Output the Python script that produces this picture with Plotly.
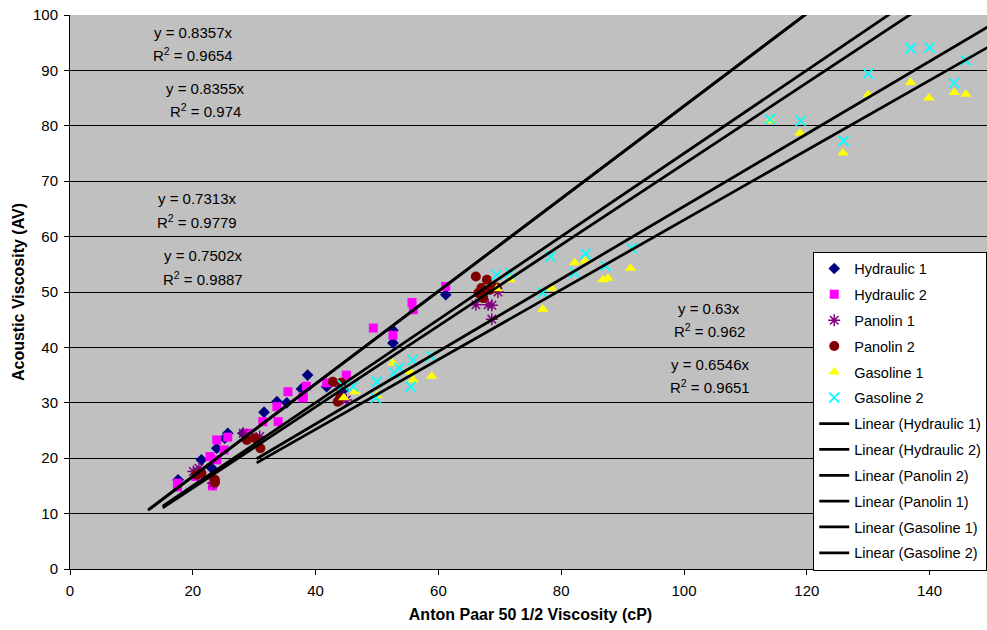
import plotly.graph_objects as go

# ---- data ----
hyd1_x = [17.6, 21.4, 23.1, 23.9, 25.2, 25.7, 28.2, 31.6, 33.7, 35.3, 37.7, 38.7, 41.8, 44.5, 52.6, 52.6, 61.2]
hyd1_y = [16.1, 19.7, 18.2, 21.8, 23.6, 24.5, 24.5, 28.3, 30.2, 30.0, 32.5, 35.0, 32.9, 32.3, 40.8, 43.1, 49.5]

hyd2_x = [17.5, 17.5, 20.5, 23.2, 22.8, 23.9, 25.7, 25.1, 23.9, 29.0, 31.4, 33.9, 33.7, 35.5, 38.0, 38.5, 41.8, 45.0,
          61.2, 55.7, 55.9, 49.4, 52.6, 37.9]
hyd2_y = [15.5, 14.8, 16.7, 15.0, 20.3, 23.3, 23.8, 21.5, 19.7, 24.5, 26.6, 26.6, 29.3, 32.0, 31.1, 33.0, 33.6, 35.0,
          51.0, 48.1, 46.8, 43.5, 42.2, 30.9]

pan1_x = [20.1, 21.0, 23.3, 28.2, 30.9, 44.0, 45.0, 66.1, 68.1, 68.7, 68.7, 69.7]
pan1_y = [17.6, 18.2, 15.5, 24.5, 23.9, 33.0, 30.5, 47.7, 47.7, 47.6, 45.1, 50.0]

pan2_x = [20.6, 21.4, 23.6, 23.6, 28.8, 30.1, 31.0, 42.8, 44.2, 44.0, 43.6, 66.1, 67.9, 67.0, 66.5, 68.4, 67.3, 69.5]
pan2_y = [17.0, 17.3, 16.1, 15.6, 23.3, 23.6, 21.8, 33.8, 33.6, 30.9, 30.2, 52.8, 52.2, 50.7, 49.8, 50.4, 48.9, 50.8]

gas1_x = [44.6, 46.4, 50.0, 52.6, 55.4, 55.9, 58.9, 69.5, 71.7, 77.0, 78.4, 82.2, 83.9, 86.8, 87.6, 91.3,
          114.0, 118.9, 125.9, 130.0, 136.9, 139.9, 144.0, 145.9]
gas1_y = [30.9, 32.0, 31.3, 37.2, 35.6, 34.1, 34.8, 50.6, 52.2, 46.9, 50.7, 55.3, 55.6, 52.2, 52.5, 54.3,
          80.9, 78.7, 75.1, 85.6, 87.8, 85.0, 86.0, 85.7]

gas2_x = [44.4, 46.1, 50.0, 49.8, 52.8, 53.6, 55.8, 55.5, 58.8, 69.5, 71.7, 77.0, 78.3, 82.2, 84.0, 87.3, 91.5,
          114.0, 119.0, 126.0, 130.0, 136.9, 140.0, 144.0, 145.9]
gas2_y = [33.2, 32.9, 33.8, 30.9, 35.4, 36.3, 37.7, 32.9, 38.4, 53.1, 53.4, 49.9, 56.4, 53.5, 56.9, 54.7, 57.9,
          81.2, 80.9, 77.3, 89.4, 94.0, 94.1, 87.7, 91.8]

series_names = ["Hydraulic 1", "Hydraulic 2", "Panolin 1", "Panolin 2", "Gasoline 1", "Gasoline 2"]

# trendlines (through origin)
trend_names = ["Linear (Hydraulic 1)", "Linear (Hydraulic 2)", "Linear (Panolin 2)",
               "Linear (Panolin 1)", "Linear (Gasoline 1)", "Linear (Gasoline 2)"]
trend_slopes = [0.8357, 0.8355, 0.7502, 0.7313, 0.63, 0.6546]
trend_x_start = [12.7, 13.0, 15.1, 15.1, 30.4, 30.4]
trend_x_end = [150, 150, 150, 150, 150, 150]

eq_texts = ["y = 0.8357x", "y = 0.8355x", "y = 0.7313x", "y = 0.7502x", "y = 0.63x", "y = 0.6546x"]
r2_texts = ["R<sup>2</sup> = 0.9654", "R<sup>2</sup> = 0.974", "R<sup>2</sup> = 0.9779",
            "R<sup>2</sup> = 0.9887", "R<sup>2</sup> = 0.962", "R<sup>2</sup> = 0.9651"]
eq_pos_x = [20.0, 22.0, 20.7, 21.7, 104.1, 104.2]
eq_pos_y = [96.8, 86.8, 66.8, 56.5, 47.1, 37.0]
r2_pos_y = [92.8, 82.8, 62.8, 52.5, 43.1, 33.0]

# ---- styles ----
FONT = "Liberation Sans, Arial, sans-serif"
styles = [
    dict(symbol="diamond", color="#000080", size=9, line=dict(width=0)),
    dict(symbol="square", color="#FF00FF", size=9, line=dict(width=0)),
    dict(symbol="asterisk-open", color="#800080", size=10, line=dict(width=1.5, color="#800080")),
    dict(symbol="circle", color="#800000", size=10, line=dict(width=0)),
    dict(symbol="triangle-up", color="#FFFF00", size=10, line=dict(width=0)),
    dict(symbol="x-thin-open", color="#00FFFF", size=10, line=dict(width=1.8, color="#00FFFF")),
]

fig = go.Figure()
xs = [hyd1_x, hyd2_x, pan1_x, pan2_x, gas1_x, gas2_x]
ys = [hyd1_y, hyd2_y, pan1_y, pan2_y, gas1_y, gas2_y]
for i, (name, x, y) in enumerate(zip(series_names, xs, ys)):
    fig.add_trace(go.Scatter(x=x, y=y, mode="markers", name=name, marker=styles[i],
                             legendgroup=f"g{i}"))

for j, (name, k, x0, x1) in enumerate(zip(trend_names, trend_slopes, trend_x_start, trend_x_end)):
    fig.add_trace(go.Scatter(x=[x0, x1], y=[k * x0, k * x1], mode="lines", name=name,
                             line=dict(color="black", width=2.75), legendgroup=f"t{j}"))

for i in range(len(eq_texts)):
    fig.add_annotation(x=eq_pos_x[i], y=eq_pos_y[i], text=eq_texts[i], showarrow=False,
                       font=dict(family=FONT, size=15, color="black"), xanchor="center", yanchor="middle")
    fig.add_annotation(x=eq_pos_x[i], y=r2_pos_y[i], text=r2_texts[i], showarrow=False,
                       font=dict(family=FONT, size=15, color="black"), xanchor="center", yanchor="middle")

# plot area: left 70px, top 15px, bottom 569px, 6.14 px per x unit
fig.update_layout(
    width=1010, height=630,
    margin=dict(l=70, r=19, t=15, b=61, autoexpand=False),
    paper_bgcolor="white", plot_bgcolor="#C0C0C0",
    font=dict(family=FONT, size=15, color="black"),
    showlegend=True,
    legend=dict(x=0.807, xanchor="left", y=0.573, yanchor="top", bgcolor="white",
                bordercolor="black", borderwidth=1, font=dict(family=FONT, size=14.5),
                traceorder="grouped", tracegroupgap=4, itemwidth=30),
    xaxis=dict(range=[0, 150], tickmode="linear", tick0=0, dtick=20, showgrid=False,
               showline=True, linecolor="black", linewidth=1, ticks="outside", ticklen=5,
               tickcolor="black", zeroline=False, automargin=False, ticklabelstandoff=3,
               tickfont=dict(size=15),
               title=dict(text="<b>Anton Paar 50 1/2 Viscosity (cP)</b>", font=dict(size=16), standoff=10)),
    yaxis=dict(range=[0, 100], tickmode="linear", tick0=0, dtick=10, showgrid=True,
               gridcolor="black", gridwidth=1, showline=True, linecolor="black", linewidth=1,
               ticks="outside", ticklen=5, tickcolor="black", zeroline=False, automargin=False,
               ticklabelstandoff=3, tickfont=dict(size=15),
               title=dict(text="<b>Acoustic Viscosity (AV)</b>", font=dict(size=16), standoff=4)),
)

fig.write_html("out.html", config={"displayModeBar": False},
               post_script="document.body.style.margin='0';document.body.style.overflow='hidden';"
                           "document.documentElement.style.overflow='hidden';")
